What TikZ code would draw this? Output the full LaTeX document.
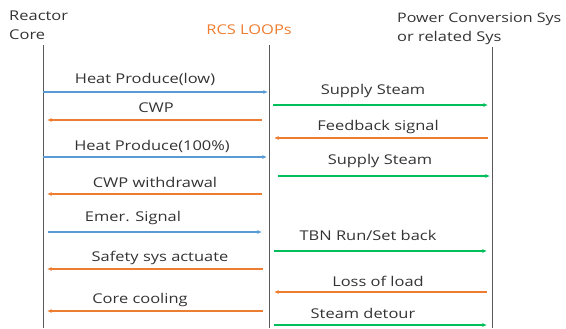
\documentclass[tikz,border=0pt]{standalone}
\usepackage{fontspec}
\setmainfont{Open Sans}[FakeStretch=1.22]
\usetikzlibrary{arrows.meta}

\definecolor{msgblue}{RGB}{91,155,213}
\definecolor{msgorange}{RGB}{237,125,49}
\definecolor{msggreen}{RGB}{0,190,90}
\definecolor{lifegray}{RGB}{90,90,90}

\begin{document}
\begin{tikzpicture}[x=0.03cm,y=-0.03cm,
    font=\fontsize{11.5}{16.5}\selectfont,
    lifeline/.style={lifegray,thin},
    msg/.style={line width=0.9pt,-{Latex[length=4pt,width=3.5pt]}},
    heatmsg/.style={msg,msgblue},
    backmsg/.style={msg,msgorange},
    steammsg/.style={msg,msggreen},
    lbl/.style={text=black!80,inner sep=1pt}]
    \useasboundingbox (0,0) rectangle (566,328);

    % headers
    \node[lbl,anchor=west,align=left,inner sep=0pt] (core) at (9,25) {Reactor\\Core};
    \node[lbl,anchor=west,text=msgorange] (rcs) at (205,30) {RCS LOOPs};
    \node[lbl,anchor=west,align=left,inner sep=0pt] (pcs) at (397,29)
        {\fontsize{11.2}{15.5}\selectfont Power Conversion Sys\\or related Sys};

    % lifelines
    \coordinate (coreTop) at (43,45);
    \coordinate (coreBot) at (43,328);
    \coordinate (rcsTop) at (269,45);
    \coordinate (rcsBot) at (269,328);
    \coordinate (pcsTop) at (492,47);
    \coordinate (pcsBot) at (492,328);
    \draw[lifeline] (coreTop) -- (coreBot);
    \draw[lifeline] (rcsTop) -- (rcsBot);
    \draw[lifeline] (pcsTop) -- (pcsBot);

    % Heat Produce(low)
    \coordinate (m1a) at (43,92);
    \coordinate (m1b) at (268,92);
    \draw[heatmsg] (m1a) -- (m1b);
    \node[lbl] (heatLow) at (145,79) {Heat Produce(low)};

    % Supply Steam
    \coordinate (m2a) at (273,105);
    \coordinate (m2b) at (488,105);
    \draw[steammsg] (m2a) -- (m2b);
    \node[lbl] (steamA) at (373,91) {Supply Steam};

    % CWP
    \coordinate (m3a) at (262,120);
    \coordinate (m3b) at (47,120);
    \draw[backmsg] (m3a) -- (m3b);
    \node[lbl] (cwp) at (156,108) {CWP};

    % Feedback signal
    \coordinate (m4a) at (488,138);
    \coordinate (m4b) at (274,138);
    \draw[backmsg] (m4a) -- (m4b);
    \node[lbl] (feedback) at (378,127) {Feedback signal};

    % Heat Produce(100%)
    \coordinate (m5a) at (43,157);
    \coordinate (m5b) at (267,157);
    \draw[heatmsg] (m5a) -- (m5b);
    \node[lbl] (heatFull) at (152,146) {Heat Produce(100\%)};

    % Supply Steam
    \coordinate (m6a) at (278,176);
    \coordinate (m6b) at (490,176);
    \draw[steammsg] (m6a) -- (m6b);
    \node[lbl] (steamB) at (380,161) {Supply Steam};

    % CWP withdrawal
    \coordinate (m7a) at (262,194);
    \coordinate (m7b) at (47,194);
    \draw[backmsg] (m7a) -- (m7b);
    \node[lbl] (cwpOut) at (155,182) {CWP withdrawal};

    % Emer. Signal
    \coordinate (m8a) at (48,232);
    \coordinate (m8b) at (262,232);
    \draw[heatmsg] (m8a) -- (m8b);
    \node[lbl] (emer) at (133,218) {Emer. Signal};

    % TBN Run/Set back
    \coordinate (m9a) at (274,251);
    \coordinate (m9b) at (487,251);
    \draw[steammsg] (m9a) -- (m9b);
    \node[lbl] (tbn) at (368,235) {TBN Run/Set back};

    % Safety sys actuate
    \coordinate (m10a) at (263,269);
    \coordinate (m10b) at (47,269);
    \draw[backmsg] (m10a) -- (m10b);
    \node[lbl] (safety) at (160,258) {Safety sys actuate};

    % Loss of load
    \coordinate (m11a) at (487,292);
    \coordinate (m11b) at (274,292);
    \draw[backmsg] (m11a) -- (m11b);
    \node[lbl] (loss) at (378,281) {Loss of load};

    % Core cooling
    \coordinate (m12a) at (263,311);
    \coordinate (m12b) at (47,311);
    \draw[backmsg] (m12a) -- (m12b);
    \node[lbl] (cooling) at (140,300) {Core cooling};

    % Steam detour
    \coordinate (m13a) at (274,325);
    \coordinate (m13b) at (487,325);
    \draw[steammsg] (m13a) -- (m13b);
    \node[lbl] (detour) at (363,313) {Steam detour};
\end{tikzpicture}
\end{document}
